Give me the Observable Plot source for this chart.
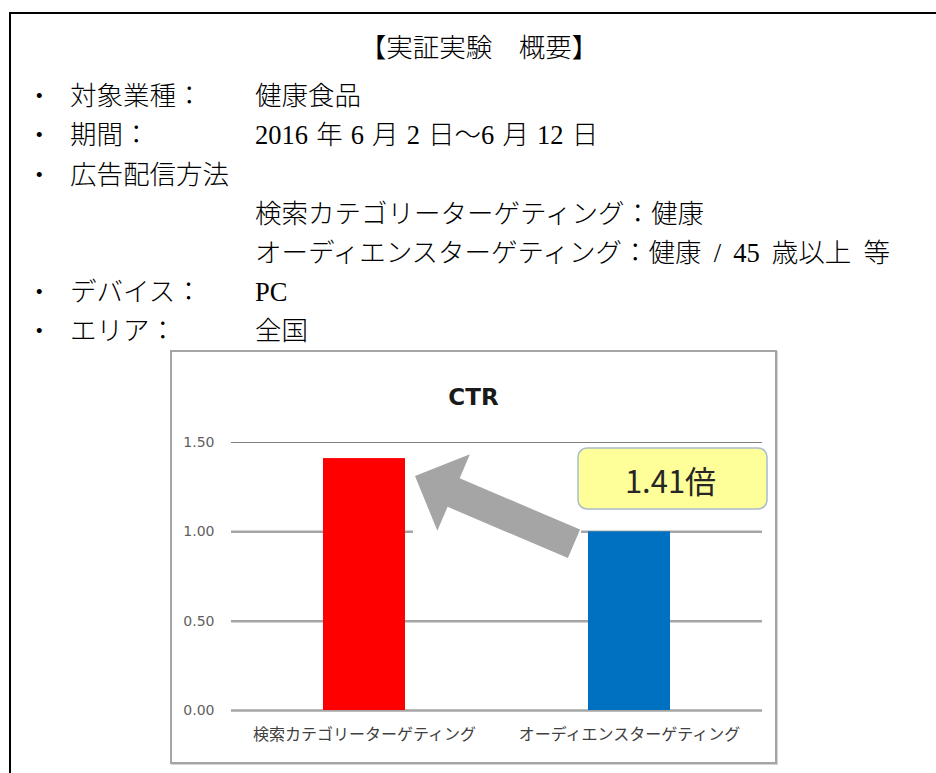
<!DOCTYPE html>
<html>
<head>
<meta charset="utf-8">
<script src="https://cdn.jsdelivr.net/npm/d3@7"></script>
<script src="https://cdn.jsdelivr.net/npm/@observablehq/plot@0.6"></script>
<style>
  body { margin: 0; background: #fff; }
  #page { position: relative; width: 936px; height: 773px; overflow: hidden; background: #fff;
          font-family: "Liberation Serif", "Noto Sans CJK JP", serif; color: #000; }
  .frame { position: absolute; left: 9px; top: 12px; width: 1000px; height: 900px;
           border-top: 2px solid #000; border-left: 2px solid #000; }
  .t { position: absolute; font-size: 26.5px; line-height: 26px; white-space: pre; font-weight: 300; }
  .ws { word-spacing: 1.5px; }
  .ws2 { word-spacing: 5.5px; }
  #box { position: absolute; left: 170px; top: 350px; width: 603px; height: 410px;
         border: 2px solid #a5a5a5; box-shadow: 1px 1px 0 #d4d4d4; background: #fff; }
  #ctr { position: absolute; left: 0; right: 0; top: 32px; line-height: 24px; text-align: center;
         font: bold 23px "DejaVu Sans", sans-serif; color: #1a1a1a; }
  #chart { position: absolute; left: 0; top: 68px; }
</style>
</head>
<body>
<div id="page">
  <div class="frame"></div>
  <div class="t" style="left:479px;top:35px;transform:translateX(-50%);">【実証実験　概要】</div>

  <div class="t" style="left:26px;top:83px;">・</div>
  <div class="t" style="left:70px;top:83px;">対象業種：</div>
  <div class="t" style="left:255px;top:83px;">健康食品</div>

  <div class="t" style="left:26px;top:122px;">・</div>
  <div class="t" style="left:70px;top:122px;">期間：</div>
  <div class="t ws" style="left:255px;top:122px;">2016 年 6 月 2 日〜6 月 12 日</div>

  <div class="t" style="left:26px;top:162px;">・</div>
  <div class="t" style="left:70px;top:162px;">広告配信方法</div>

  <div class="t" style="left:255px;top:201px;">検索カテゴリーターゲティング：健康</div>
  <div class="t ws2" style="left:255px;top:240px;">オーディエンスターゲティング：健康 / 45 歳以上 等</div>

  <div class="t" style="left:26px;top:279px;">・</div>
  <div class="t" style="left:70px;top:279px;">デバイス：</div>
  <div class="t" style="left:255px;top:279px;">PC</div>

  <div class="t" style="left:26px;top:318px;">・</div>
  <div class="t" style="left:70px;top:318px;">エリア：</div>
  <div class="t" style="left:255px;top:318px;">全国</div>

  <div id="box">
    <div id="ctr">CTR</div>
    <div id="chart"></div>
  </div>
</div>
<script>
// ---- data ----
const categories = ["検索カテゴリーターゲティング", "オーディエンスターゲティング"];
const ctrValues = [1.41, 1.00];
const barColors = ["#ff0000", "#0070c0"];
const yTicks = [0, 0.5, 1.0, 1.5];
const yTickLabels = ["0.00", "0.50", "1.00", "1.50"];
const ratioLabel = (ctrValues[0] / ctrValues[1]).toFixed(2) + "倍";

const rows = categories.map((c, i) => ({category: c, value: ctrValues[i]}));

// arrow geometry (pixel offsets relative to the bars, derived via scales)
function arrowPoints(scales) {
  const x = scales.x, y = scales.y, bw = x.bandwidth();
  const tip = [x(categories[0]) + bw + 10, y(ctrValues[0]) + 18];
  const tail = [x(categories[1]) - 14, y(ctrValues[1]) + 12.5];
  const dx = tip[0] - tail[0], dy = tip[1] - tail[1], L = Math.hypot(dx, dy);
  const u = [dx / L, dy / L], n = [-u[1], u[0]];
  const neck = [tip[0] - 42 * u[0], tip[1] - 42 * u[1]];
  const p = (b, k) => [b[0] + k * n[0], b[1] + k * n[1]];
  return [tip, p(neck, 41.5), p(neck, 15.5), p(tail, 15.5), p(tail, -15.5), p(neck, -15.5), p(neck, -41.5)];
}

const arrowBg = (index, scales) => {
  const pts = arrowPoints(scales);
  const xs = pts.map(d => d[0]), ys = pts.map(d => d[1]);
  const g = d3.create("svg:g");
  g.append("rect")
    .attr("x", d3.min(xs) - 2).attr("y", d3.min(ys) - 1)
    .attr("width", d3.max(xs) - d3.min(xs) + 3).attr("height", d3.max(ys) - d3.min(ys) + 2)
    .attr("fill", "#fff");
  return g.node();
};

const arrowMark = (index, scales) => {
  const pts = arrowPoints(scales);
  const g = d3.create("svg:g");
  g.append("polygon").attr("points", pts.map(d => d.join(",")).join(" ")).attr("fill", "#a5a5a5");
  return g.node();
};

const badgeMark = (index, scales) => {
  const xr = scales.x.range()[1], y0 = scales.y(yTicks[yTicks.length - 1]);
  const g = d3.create("svg:g");
  const bx = xr - 184, by = y0 + 6, bwid = 189, bh = 61;
  g.append("rect").attr("x", bx).attr("y", by).attr("width", bwid).attr("height", bh)
    .attr("rx", 9).attr("fill", "#ffff99").attr("stroke", "#a9bccd").attr("stroke-width", 1.5);
  g.append("text").attr("x", bx + bwid / 2 - 2).attr("y", by + bh / 2 + 1)
    .attr("text-anchor", "middle").attr("dominant-baseline", "central")
    .attr("font-family", "'Noto Sans CJK JP', sans-serif").attr("font-size", 31)
    .attr("fill", "#262626").text(ratioLabel);
  return g.node();
};

const chart = Plot.plot({
  width: 603,
  height: 342,
  marginLeft: 59,
  marginRight: 13,
  marginTop: 22,
  marginBottom: 52,
  style: {background: "transparent", overflow: "visible"},
  x: {domain: categories, paddingInner: 0.69, paddingOuter: 0.345, axis: null},
  y: {domain: [0, 1.5], axis: null},
  color: {domain: categories, range: barColors},
  marks: [
    Plot.ruleY(yTicks.slice(0, 3), {stroke: "#a5a5a5", strokeWidth: 2.5}),
    Plot.ruleY(yTicks.slice(3), {stroke: "#808080", strokeWidth: 1}),
    arrowBg,
    Plot.barY(rows, {x: "category", y: "value", fill: "category"}),
    arrowMark,
    badgeMark,
    Plot.axisY(yTicks, {tickSize: 0, tickPadding: 17, tickFormat: (d) => yTickLabels[yTicks.indexOf(d)],
      fontSize: 14, fontFamily: "DejaVu Sans", fill: "#5f5f5f", label: null}),
    Plot.axisX({tickSize: 0, tickPadding: 18, fontSize: 16, fontFamily: "Noto Sans CJK JP",
      fill: "#404040", label: null})
  ]
});
document.getElementById("chart").appendChild(chart);
</script>
</body>
</html>
